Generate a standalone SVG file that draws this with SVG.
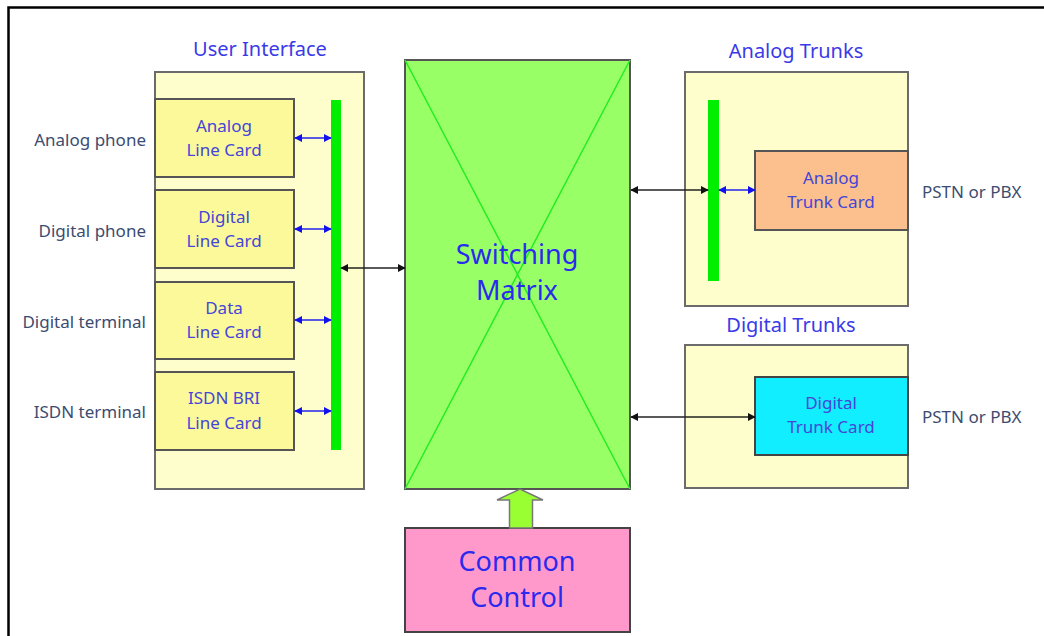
<svg xmlns="http://www.w3.org/2000/svg" width="1044" height="636" viewBox="0 0 1044 636">
  <defs>
    <style>
      .frame { stroke: #000; stroke-width: 2.5; fill: none; }
      .panel { fill: #fefdcc; stroke: #6b6b6b; stroke-width: 2; }
      .card { fill: #fbf99a; stroke: #555; stroke-width: 2; }
      .bus { fill: #00ee00; }
      .title { font-family: "Noto Sans", "Open Sans", sans-serif; font-size: 20px; fill: #3a3ae8; text-anchor: middle; }
      .cardtxt { font-family: "Noto Sans", "Open Sans", sans-serif; font-size: 17px; fill: #4545d8; text-anchor: middle; }
      .side { font-family: "Noto Sans", "Open Sans", sans-serif; font-size: 17px; fill: #3c4c70; }
      .big { font-family: "Noto Sans", "Open Sans", sans-serif; font-size: 27px; fill: #2a2aee; text-anchor: middle; }
      .blue { stroke: #2222ee; stroke-width: 1.5; fill: none; marker-start: url(#hb); marker-end: url(#hb); }
      .black { stroke: #222; stroke-width: 1.5; fill: none; marker-start: url(#hk); marker-end: url(#hk); }
    </style>
    <marker id="hb" viewBox="0 0 10 10" refX="9" refY="5" markerWidth="8" markerHeight="8" markerUnits="userSpaceOnUse" orient="auto-start-reverse">
      <path d="M0,0 L10,5 L0,10 Z" fill="#1111ee"/>
    </marker>
    <marker id="hk" viewBox="0 0 10 10" refX="9" refY="5" markerWidth="8" markerHeight="8" markerUnits="userSpaceOnUse" orient="auto-start-reverse">
      <path d="M0,0 L10,5 L0,10 Z" fill="#111"/>
    </marker>
  </defs>

  <rect width="1044" height="636" fill="#fff"/>
  <!-- open frame: top and left edges only -->
  <path class="frame" d="M8.5,636 V7.5 H1044"/>

  <!-- user interface panel -->
  <g id="user-interface">
    <text class="title" x="260" y="56">User Interface</text>
    <rect class="panel" x="155" y="72" width="209" height="417"/>
    <rect class="bus" x="331" y="100" width="10" height="350"/>
  </g>
  <g id="analog-line-card">
    <rect class="card" x="155" y="99" width="139" height="78"/>
    <text class="cardtxt" x="224" y="132">Analog</text>
    <text class="cardtxt" x="224" y="156">Line Card</text>
  </g>
  <g id="digital-line-card">
    <rect class="card" x="155" y="190" width="139" height="78"/>
    <text class="cardtxt" x="224" y="223">Digital</text>
    <text class="cardtxt" x="224" y="247">Line Card</text>
  </g>
  <g id="data-line-card">
    <rect class="card" x="155" y="282" width="139" height="77"/>
    <text class="cardtxt" x="224" y="314">Data</text>
    <text class="cardtxt" x="224" y="338">Line Card</text>
  </g>
  <g id="isdn-line-card">
    <rect class="card" x="155" y="372" width="139" height="78"/>
    <text class="cardtxt" x="224" y="404">ISDN BRI</text>
    <text class="cardtxt" x="224" y="429">Line Card</text>
  </g>

  <!-- terminal labels -->
  <g id="terminals">
    <text class="side" x="146" y="146" text-anchor="end">Analog phone</text>
    <text class="side" x="146" y="237" text-anchor="end">Digital phone</text>
    <text class="side" x="146" y="328" text-anchor="end">Digital terminal</text>
    <text class="side" x="146" y="418" text-anchor="end">ISDN terminal</text>
  </g>

  <!-- switching matrix -->
  <g id="switching-matrix">
    <rect x="405" y="60" width="225" height="429" fill="#99ff66" stroke="#555" stroke-width="2"/>
    <path d="M405,60 L630,489 M630,60 L405,489" stroke="#22ee22" stroke-width="1.5"/>
    <text class="big" x="517" y="264">Switching</text>
    <text class="big" x="517" y="300">Matrix</text>
  </g>

  <!-- common control -->
  <g id="common-control">
    <rect x="405" y="528" width="225" height="104" fill="#ff99cc" stroke="#444" stroke-width="2"/>
    <text class="big" x="517" y="571" font-size="28">Common</text>
    <text class="big" x="517" y="607" font-size="28">Control</text>
  </g>

  <!-- analog trunks -->
  <g id="analog-trunks">
    <text class="title" x="796" y="58">Analog Trunks</text>
    <rect class="panel" x="685" y="72" width="223" height="234"/>
    <rect class="bus" x="708" y="100" width="11" height="181"/>
  </g>
  <g id="analog-trunk-card">
    <rect x="755" y="151" width="153" height="79" fill="#fbc08d" stroke="#555" stroke-width="2"/>
    <text class="cardtxt" x="831" y="184">Analog</text>
    <text class="cardtxt" x="831" y="208">Trunk Card</text>
  </g>

  <!-- digital trunks -->
  <g id="digital-trunks">
    <text class="title" x="791" y="332">Digital Trunks</text>
    <rect class="panel" x="685" y="345" width="223" height="143"/>
  </g>
  <g id="digital-trunk-card">
    <rect x="755" y="377" width="153" height="78" fill="#11eeff" stroke="#444" stroke-width="2"/>
    <text class="cardtxt" x="831" y="409">Digital</text>
    <text class="cardtxt" x="831" y="433">Trunk Card</text>
  </g>

  <g id="network-labels">
    <text class="side" x="922" y="198">PSTN or PBX</text>
    <text class="side" x="922" y="423">PSTN or PBX</text>
  </g>

  <!-- connectors -->
  <g id="connectors">
    <line class="blue" x1="295" y1="138" x2="331" y2="138"/>
    <line class="blue" x1="295" y1="229" x2="331" y2="229"/>
    <line class="blue" x1="295" y1="320" x2="331" y2="320"/>
    <line class="blue" x1="295" y1="411" x2="331" y2="411"/>
    <line class="black" x1="341" y1="268" x2="405" y2="268"/>
    <line class="black" x1="631" y1="190" x2="708" y2="190"/>
    <line class="blue" x1="719" y1="190" x2="755" y2="190"/>
    <line class="black" x1="631" y1="417" x2="755" y2="417"/>
    <!-- control-to-matrix block arrow -->
    <path d="M509.5,528 V500 H497 L520,489 L543,500 H532.5 V528 Z" fill="#99ff33" stroke="#777" stroke-width="1.5"/>
  </g>
</svg>
